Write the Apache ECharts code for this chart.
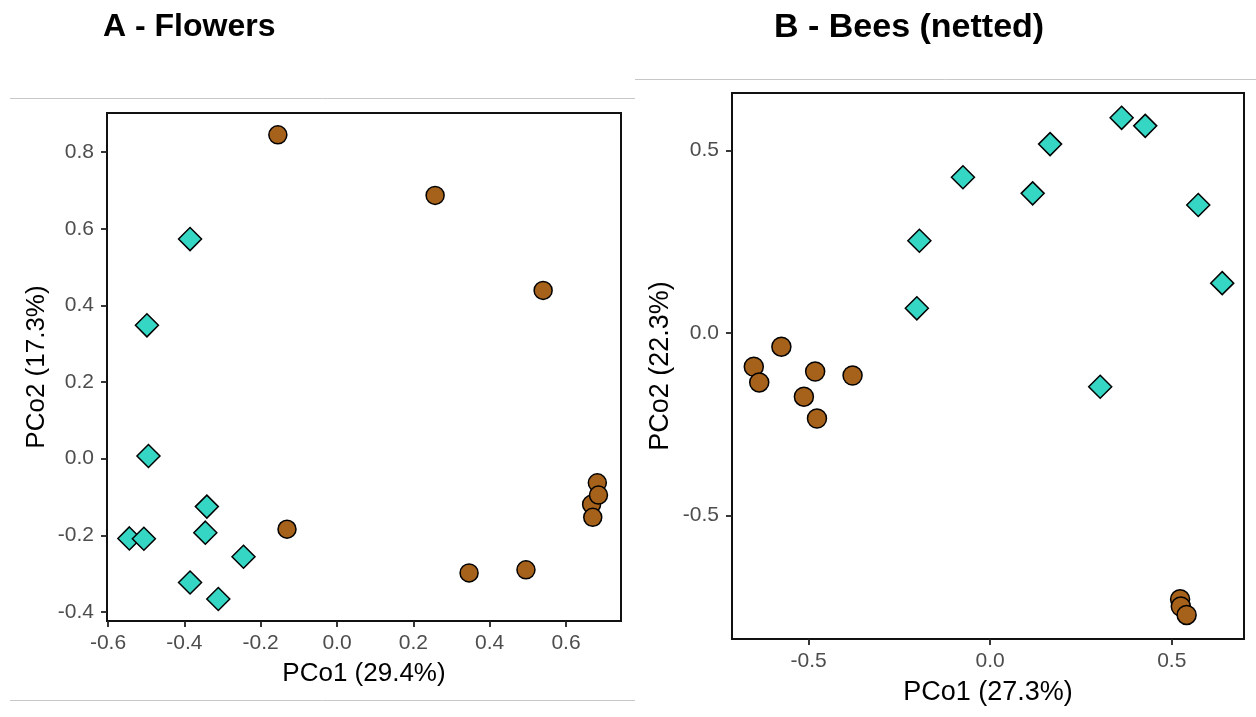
<!DOCTYPE html>
<html>
<head>
<meta charset="utf-8">
<script src="https://cdn.jsdelivr.net/npm/echarts@6/dist/echarts.min.js"></script>
<style>
  html, body { margin: 0; padding: 0; background: #ffffff; }
  #chart { width: 1256px; height: 717px; }
</style>
</head>
<body>
<div id="chart"></div>
<script>
// ---------- Data ----------
const titleA = "A - Flowers";
const titleB = "B - Bees (netted)";
const xNameA = "PCo1 (29.4%)";
const yNameA = "PCo2 (17.3%)";
const xNameB = "PCo1 (27.3%)";
const yNameB = "PCo2 (22.3%)";

// Panel A (Flowers): group shown as brown circles
const flowersCircles = [
  [-0.155, 0.845], [0.257, 0.687], [0.540, 0.439], [-0.131, -0.184],
  [0.346, -0.298], [0.495, -0.290],
  [0.682, -0.063], [0.667, -0.119], [0.685, -0.095], [0.670, -0.153]
];
// Panel A (Flowers): group shown as turquoise diamonds
const flowersDiamonds = [
  [-0.385, 0.573], [-0.498, 0.348], [-0.494, 0.007], [-0.341, -0.125],
  [-0.345, -0.193], [-0.544, -0.208], [-0.506, -0.209], [-0.245, -0.256],
  [-0.385, -0.323], [-0.311, -0.366]
];
// Panel B (Bees netted): brown circles
const beesCircles = [
  [-0.575, -0.037], [-0.651, -0.092], [-0.636, -0.135], [-0.482, -0.105],
  [-0.379, -0.116], [-0.513, -0.174], [-0.477, -0.234],
  [0.523, -0.729], [0.525, -0.749], [0.541, -0.772]
];
// Panel B (Bees netted): turquoise diamonds
const beesDiamonds = [
  [0.362, 0.590], [0.427, 0.568], [0.165, 0.518], [-0.075, 0.427],
  [0.117, 0.383], [0.573, 0.351], [-0.195, 0.253], [0.639, 0.137],
  [-0.202, 0.068], [0.303, -0.147]
];

// Tick values
const xTicksA = [-0.6, -0.4, -0.2, 0.0, 0.2, 0.4, 0.6];
const yTicksA = [-0.4, -0.2, 0.0, 0.2, 0.4, 0.6, 0.8];
const xTicksB = [-0.5, 0.0, 0.5];
const yTicksB = [-0.5, 0.0, 0.5];

// Axis ranges
const xRangeA = [-0.6026, 0.744];
const yRangeA = [-0.4235, 0.902];
const xRangeB = [-0.711, 0.699];
const yRangeB = [-0.838, 0.658];

// ---------- Styles ----------
const FONT = "'Liberation Sans', Arial, Helvetica, sans-serif";
const BROWN = "#A6611A";
const TEAL = "#36D6C4";

function makeAxis(type, gridIndex, range, ticks, name, gap, nameSize) {
  return {
    type: 'value',
    gridIndex: gridIndex,
    position: type === 'x' ? 'bottom' : 'left',
    min: range[0],
    max: range[1],
    name: name,
    nameLocation: 'middle',
    nameGap: gap,
    nameTextStyle: { color: '#000', fontSize: nameSize, fontFamily: FONT },
    axisLine: { show: false, onZero: false },
    splitLine: { show: false },
    axisTick: {
      show: true, inside: false, length: 6,
      customValues: ticks,
      lineStyle: { color: '#222', width: 1.8 }
    },
    axisLabel: {
      show: true,
      customValues: ticks,
      margin: type === 'x' ? 12 : 13,
      color: '#4D4D4D',
      fontSize: 21,
      fontFamily: FONT,
      formatter: v => (Math.abs(v) < 1e-9 ? 0 : v).toFixed(1)
    }
  };
}

function scatter(data, sym, size, color, xi, yi) {
  return {
    type: 'scatter',
    xAxisIndex: xi, yAxisIndex: yi,
    data: data,
    symbol: sym,
    symbolSize: size,
    itemStyle: { color: color, borderColor: '#000', borderWidth: 1.5, opacity: 1 },
    emphasis: { disabled: true }
  };
}

const chart = echarts.init(document.getElementById('chart'), null, { renderer: 'canvas' });
chart.setOption({
  animation: false,
  backgroundColor: '#ffffff',
  title: [
    { text: titleA, left: 103, top: 11, padding: 0,
      textStyle: { fontSize: 32, fontWeight: 'bold', color: '#000', fontFamily: FONT } },
    { text: titleB, left: 774, top: 11, padding: 0,
      textStyle: { fontSize: 34, fontWeight: 'bold', color: '#000', fontFamily: FONT } }
  ],
  grid: [
    { left: 107, top: 113, width: 514, height: 508, show: true,
      borderColor: '#111', borderWidth: 2, backgroundColor: 'transparent' },
    { left: 732, top: 93, width: 512, height: 546, show: true,
      borderColor: '#111', borderWidth: 2, backgroundColor: 'transparent' }
  ],
  xAxis: [
    makeAxis('x', 0, xRangeA, xTicksA, xNameA, 40, 26),
    makeAxis('x', 1, xRangeB, xTicksB, xNameB, 40, 27)
  ],
  yAxis: [
    makeAxis('y', 0, yRangeA, yTicksA, yNameA, 57, 26),
    makeAxis('y', 1, yRangeB, yTicksB, yNameB, 58, 27)
  ],
  graphic: [
    { type: 'line', shape: { x1: 10, y1: 98.5, x2: 635, y2: 98.5 }, style: { stroke: '#c8c8c8', lineWidth: 1 } },
    { type: 'line', shape: { x1: 10, y1: 700.5, x2: 635, y2: 700.5 }, style: { stroke: '#c8c8c8', lineWidth: 1 } },
    { type: 'line', shape: { x1: 635, y1: 79.5, x2: 1256, y2: 79.5 }, style: { stroke: '#c8c8c8', lineWidth: 1 } }
  ],
  series: [
    scatter(flowersCircles, 'circle', 18, BROWN, 0, 0),
    scatter(flowersDiamonds, 'diamond', 23, TEAL, 0, 0),
    scatter(beesCircles, 'circle', 19, BROWN, 1, 1),
    scatter(beesDiamonds, 'diamond', 23, TEAL, 1, 1)
  ]
});
</script>
</body>
</html>
